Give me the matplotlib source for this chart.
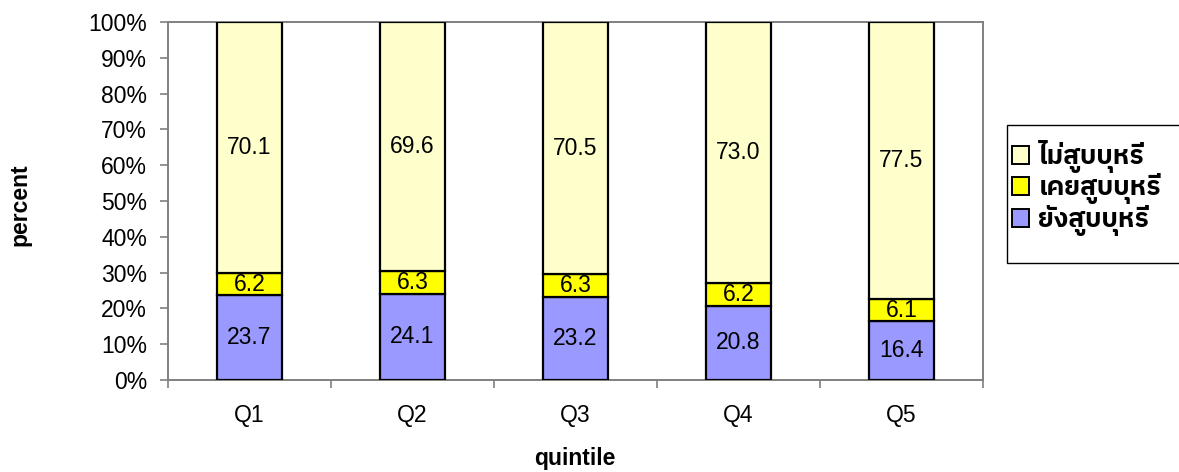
import matplotlib
matplotlib.use("Agg")
import matplotlib.pyplot as plt
from matplotlib import font_manager
from matplotlib.ft2font import FT2Font
from matplotlib.patches import Patch, Rectangle
import numpy as np

categories = ["Q1", "Q2", "Q3", "Q4", "Q5"]
current_smoker = [23.7, 24.1, 23.2, 20.8, 16.4]   # ยังสูบบุหรี่
ex_smoker = [6.2, 6.3, 6.3, 6.2, 6.1]            # เคยสูบบุหรี่
never_smoker = [70.1, 69.6, 70.5, 73.0, 77.5]    # ไม่สูบบุหรี่
series_names = ["ยังสูบบุหรี่", "เคยสูบบุหรี่", "ไม่สูบบุหรี่"]
y_ticklabels = ["0%", "10%", "20%", "30%", "40%", "50%", "60%", "70%", "80%", "90%", "100%"]
colors = ["#9999FF", "#FFFF00", "#FFFFCC"]


def find_thai_font():
    preferred = []
    others = []
    for f in font_manager.fontManager.ttflist:
        try:
            cm = FT2Font(f.fname).get_charmap()
        except Exception:
            continue
        if 0x0E2A in cm and 0x0E39 in cm and 0x0E48 in cm:
            if "sans" in f.name.lower() or "thai" in f.name.lower():
                preferred.append(f.name)
            else:
                others.append(f.name)
    if preferred:
        return preferred[0]
    if others:
        return others[0]
    return None


thai = find_thai_font()
base = "Liberation Sans"
plt.rcParams["font.family"] = [base, "DejaVu Sans"]
thai_family = ([thai] if thai else []) + ["DejaVu Sans"]

W, H = 1179, 472
fig = plt.figure(figsize=(W / 100, H / 100), dpi=100)
ax = fig.add_axes([168 / W, 1 - 380 / H, (983 - 168) / W, (380 - 22) / H])

x = np.arange(len(categories))
bw = 0.395
fs = 16.5
bottoms = np.zeros(len(categories))
for vals, col in zip([current_smoker, ex_smoker, never_smoker], colors):
    vals = np.array(vals)
    ax.bar(x, vals, bw, bottom=bottoms, color=col, edgecolor="black", linewidth=1.6, zorder=3)
    for xi, b, v in zip(x, bottoms, vals):
        ax.text(xi, b + v / 2, f"{v:.1f}", ha="center", va="center", fontsize=fs, zorder=4)
    bottoms = bottoms + vals

ax.set_xlim(-0.5, len(categories) - 0.5)
ax.set_ylim(0, 100)
ax.set_yticks(np.arange(0, 101, 10))
ax.set_yticklabels(y_ticklabels, fontsize=fs)
ax.set_xticks(np.arange(-0.5, len(categories), 1))
ax.set_xticklabels([])
ax.set_xticks(x, minor=True)
ax.set_xticklabels(categories, minor=True, fontsize=fs)
ax.tick_params(axis="x", which="minor", length=0, pad=17)
ax.tick_params(axis="x", which="major", length=6, width=1.2, color="#808080", direction="out")
ax.tick_params(axis="y", length=6, width=1.2, color="#808080", direction="out", pad=9)
for s in ax.spines.values():
    s.set_color("#808080")
    s.set_linewidth(1.4)

fig.text(20 / W, 1 - 205 / H, "percent", rotation=90, ha="center", va="center",
         fontsize=fs, fontweight="bold")
fig.text(575 / W, 1 - 458 / H, "quintile", ha="center", va="center",
         fontsize=fs, fontweight="bold")

# legend frame
fig.patches.append(Rectangle((1007 / W, 1 - 263 / H), (1190 - 1007) / W, (263 - 125) / H,
                             transform=fig.transFigure, facecolor="white",
                             edgecolor="black", linewidth=1.0, zorder=1))
handles = [Patch(facecolor=c, edgecolor="black", linewidth=1.4) for c in colors[::-1]]
leg = fig.legend(handles, series_names[::-1], loc="center left",
                 bbox_to_anchor=(1012 / W, 1 - 188 / H), frameon=False,
                 prop={"family": thai_family, "size": 19, "weight": "bold"},
                 handlelength=0.65, handleheight=0.65, handletextpad=0.35,
                 labelspacing=0.02, borderaxespad=0, borderpad=0)
leg.set_zorder(5)

fig.savefig("out.png", dpi=100)
